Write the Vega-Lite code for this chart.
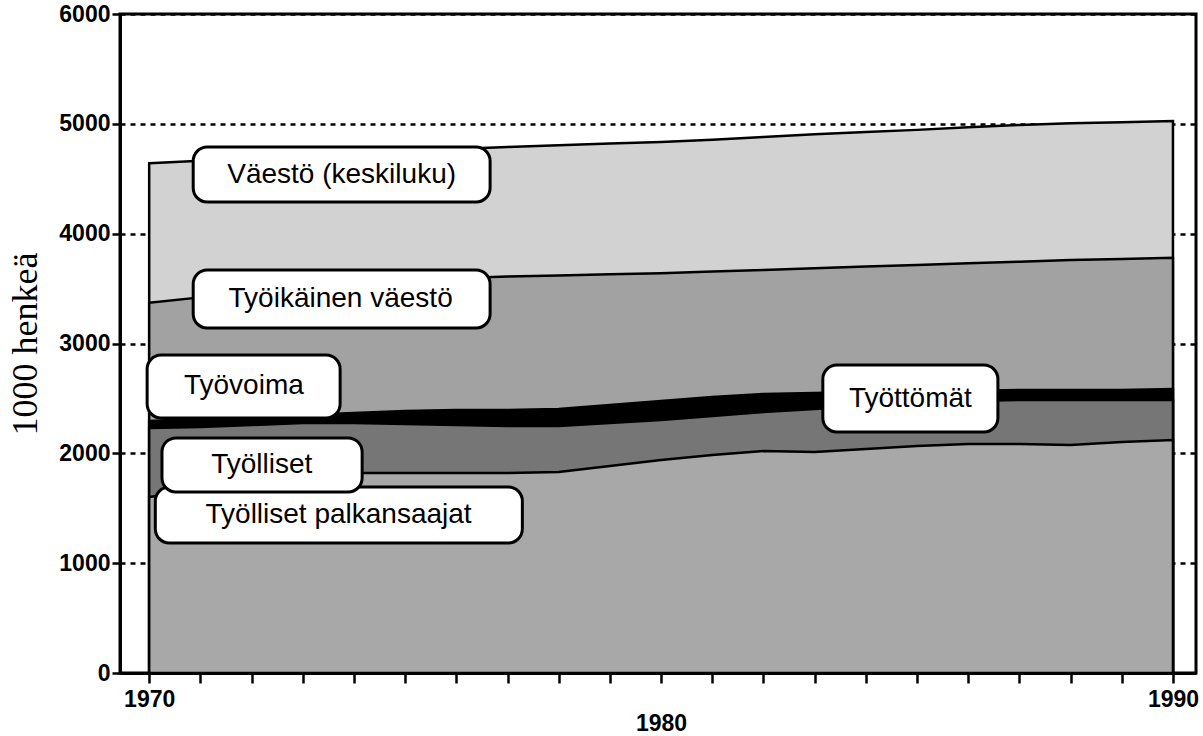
{
  "$schema": "https://vega.github.io/schema/vega-lite/v6.json",
  "width": 1076,
  "height": 659,
  "autosize": {"type": "none"},
  "padding": {"left": 120, "top": 14, "right": 7, "bottom": 63},
  "background": "white",
  "config": {
    "view": {"stroke": "black", "strokeWidth": 3},
    "font": "Liberation Sans"
  },
  "datasets": {
    "series": [
      {"year": 1970, "pop": 4640, "work": 3370, "lf": 2294, "emp": 2231, "wage": 1602},
      {"year": 1971, "pop": 4665, "work": 3420, "lf": 2313, "emp": 2240, "wage": 1666},
      {"year": 1972, "pop": 4690, "work": 3470, "lf": 2331, "emp": 2258, "wage": 1730},
      {"year": 1973, "pop": 4715, "work": 3510, "lf": 2349, "emp": 2276, "wage": 1785},
      {"year": 1974, "pop": 4735, "work": 3550, "lf": 2367, "emp": 2276, "wage": 1821},
      {"year": 1975, "pop": 4755, "work": 3580, "lf": 2386, "emp": 2267, "wage": 1821},
      {"year": 1976, "pop": 4770, "work": 3595, "lf": 2395, "emp": 2258, "wage": 1821},
      {"year": 1977, "pop": 4790, "work": 3610, "lf": 2395, "emp": 2249, "wage": 1821},
      {"year": 1978, "pop": 4805, "work": 3620, "lf": 2404, "emp": 2249, "wage": 1830},
      {"year": 1979, "pop": 4820, "work": 3630, "lf": 2440, "emp": 2276, "wage": 1885},
      {"year": 1980, "pop": 4835, "work": 3640, "lf": 2477, "emp": 2304, "wage": 1939},
      {"year": 1981, "pop": 4855, "work": 3655, "lf": 2513, "emp": 2340, "wage": 1985},
      {"year": 1982, "pop": 4880, "work": 3670, "lf": 2540, "emp": 2376, "wage": 2021},
      {"year": 1983, "pop": 4905, "work": 3685, "lf": 2549, "emp": 2404, "wage": 2012},
      {"year": 1984, "pop": 4925, "work": 3700, "lf": 2559, "emp": 2431, "wage": 2040},
      {"year": 1985, "pop": 4945, "work": 3715, "lf": 2568, "emp": 2458, "wage": 2067},
      {"year": 1986, "pop": 4970, "work": 3730, "lf": 2568, "emp": 2477, "wage": 2085},
      {"year": 1987, "pop": 4990, "work": 3745, "lf": 2577, "emp": 2486, "wage": 2085},
      {"year": 1988, "pop": 5005, "work": 3760, "lf": 2577, "emp": 2486, "wage": 2076},
      {"year": 1989, "pop": 5015, "work": 3770, "lf": 2577, "emp": 2486, "wage": 2103},
      {"year": 1990, "pop": 5025, "work": 3780, "lf": 2586, "emp": 2486, "wage": 2121}
    ],
    "labels": [
      {"label": "Väestö (keskiluku)", "x1": 1970.86, "x2": 1976.66, "y1": 4288, "y2": 4789, "xc": 1973.76, "yc": 4538},
      {"label": "Työikäinen väestö", "x1": 1970.86, "x2": 1976.66, "y1": 3141, "y2": 3669, "xc": 1973.74, "yc": 3405},
      {"label": "Työvoima", "x1": 1969.96, "x2": 1973.73, "y1": 2322, "y2": 2895, "xc": 1971.85, "yc": 2609},
      {"label": "Työlliset palkansaajat", "x1": 1970.12, "x2": 1977.29, "y1": 1184, "y2": 1693, "xc": 1973.70, "yc": 1439},
      {"label": "Työlliset", "x1": 1970.25, "x2": 1974.16, "y1": 1648, "y2": 2140, "xc": 1972.2, "yc": 1894},
      {"label": "Työttömät", "x1": 1983.16, "x2": 1986.58, "y1": 2194, "y2": 2804, "xc": 1984.87, "yc": 2499}
    ]
  },
  "layer": [
    {
      "data": {"name": "series"},
      "encoding": {
        "x": {
          "field": "year",
          "type": "quantitative",
          "title": null,
          "scale": {"domain": [1969.43, 1990.45], "nice": false, "zero": false},
          "axis": {
            "values": [1970, 1971, 1972, 1973, 1974, 1975, 1976, 1977, 1978, 1979, 1980, 1981, 1982, 1983, 1984, 1985, 1986, 1987, 1988, 1989, 1990],
            "format": "d",
            "labelExpr": "datum.value == 1980 ? ['', '1980'] : ((datum.value == 1970 || datum.value == 1990) ? datum.label : '')",
            "grid": false,
            "domainColor": "black",
            "domainWidth": 3,
            "tickColor": "black",
            "tickWidth": 2.5,
            "tickSize": 10,
            "labelFont": "Liberation Sans",
            "labelFontSize": 23,
            "labelFontWeight": "bold",
            "labelColor": "black",
            "labelPadding": 5,
            "labelLineHeight": 24,
            "labelOverlap": false,
            "labelFlush": false,
            "labelBound": false
          }
        }
      },
      "layer": [
        {
          "mark": {"type": "area", "fill": "#d2d2d2", "stroke": "black", "strokeWidth": 2.5},
          "encoding": {
            "y": {
              "field": "pop",
              "type": "quantitative",
              "title": "1000 henkeä",
              "scale": {"domain": [0, 6000], "nice": false},
              "axis": {
                "values": [0, 1000, 2000, 3000, 4000, 5000, 6000],
                "format": "d",
                "grid": true,
                "gridColor": "black",
                "gridDash": [5, 5],
                "gridWidth": 2.5,
                "domainColor": "black",
                "domainWidth": 3,
                "tickColor": "black",
                "tickWidth": 2.5,
                "tickSize": 8,
                "labelFont": "Liberation Sans",
                "labelFontSize": 23,
                "labelFontWeight": "bold",
                "labelColor": "black",
                "labelPadding": 2,
                "titleFont": "Liberation Serif",
                "titleFontSize": 36,
                "titleFontWeight": "normal",
                "titleColor": "black",
                "titlePadding": 14
              }
            }
          }
        },
        {
          "mark": {"type": "area", "fill": "#a2a2a2", "stroke": "black", "strokeWidth": 2.5},
          "encoding": {"y": {"field": "work", "type": "quantitative", "title": "1000 henkeä"}}
        },
        {
          "mark": {"type": "area", "fill": "black", "stroke": "black", "strokeWidth": 2.5},
          "encoding": {"y": {"field": "lf", "type": "quantitative", "title": "1000 henkeä"}}
        },
        {
          "mark": {"type": "area", "fill": "#767676", "stroke": "black", "strokeWidth": 2.5},
          "encoding": {"y": {"field": "emp", "type": "quantitative", "title": "1000 henkeä"}}
        },
        {
          "mark": {"type": "area", "fill": "#a8a8a8", "stroke": "black", "strokeWidth": 2.5},
          "encoding": {"y": {"field": "wage", "type": "quantitative", "title": "1000 henkeä"}}
        }
      ]
    },
    {
      "data": {"name": "labels"},
      "mark": {"type": "rect", "fill": "white", "stroke": "black", "strokeWidth": 3, "cornerRadius": 14},
      "encoding": {
        "x": {"field": "x1", "type": "quantitative", "title": null},
        "x2": {"field": "x2"},
        "y": {"field": "y1", "type": "quantitative", "title": "1000 henkeä"},
        "y2": {"field": "y2"}
      }
    },
    {
      "data": {"name": "labels"},
      "mark": {"type": "text", "font": "Liberation Sans", "fontSize": 28, "color": "black", "align": "center", "baseline": "middle"},
      "encoding": {
        "x": {"field": "xc", "type": "quantitative", "title": null},
        "y": {"field": "yc", "type": "quantitative", "title": "1000 henkeä"},
        "text": {"field": "label"}
      }
    }
  ]
}
